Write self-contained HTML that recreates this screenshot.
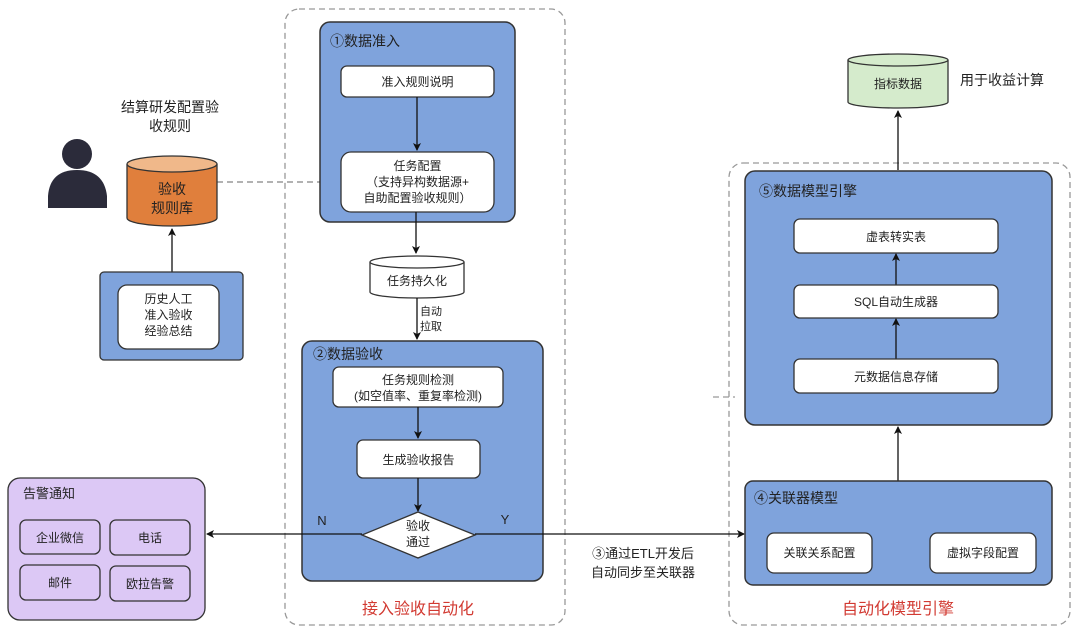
<!DOCTYPE html>
<html><head><meta charset="utf-8"><style>
html,body{margin:0;padding:0;background:#fff;}
svg{display:block;font-family:"Liberation Sans","Noto Sans CJK SC",sans-serif;}
</style></head><body>
<svg width="1080" height="633" viewBox="0 0 1080 633" xmlns="http://www.w3.org/2000/svg">
<defs>
<marker id="a" markerWidth="8" markerHeight="8" refX="7" refY="4" orient="auto" markerUnits="userSpaceOnUse">
<path d="M0,0 L8,4 L0,8 L2,4 z" fill="#111"/></marker>
</defs>
<rect x="285" y="9" width="280" height="616" rx="14" fill="none" stroke="#999" stroke-width="1.3" stroke-dasharray="6,4"/>
<rect x="729" y="163" width="341" height="462" rx="14" fill="none" stroke="#999" stroke-width="1.3" stroke-dasharray="6,4"/>
<line x1="713" y1="397" x2="735" y2="397" stroke="#999" stroke-width="1.3" stroke-dasharray="6,4"/>
<line x1="217" y1="182" x2="340" y2="182" stroke="#999" stroke-width="1.5" stroke-dasharray="6,4"/>

<rect x="320" y="22" width="195" height="200" rx="10" fill="#7fa3dc" stroke="#333" stroke-width="1.5"/>
<text x="330" y="46" font-size="14" fill="#222">①数据准入</text>
<rect x="341" y="66" width="153" height="31" rx="6" fill="#fff" stroke="#333" stroke-width="1.3"/>
<text x="417.5" y="86" font-size="12" text-anchor="middle" fill="#222">准入规则说明</text>
<line x1="417" y1="97" x2="417" y2="150" stroke="#111" stroke-width="1.3" marker-end="url(#a)"/>
<rect x="341" y="152" width="153" height="60" rx="10" fill="#fff" stroke="#333" stroke-width="1.3"/>
<text x="417.5" y="170" font-size="12" text-anchor="middle" fill="#222">任务配置</text>
<text x="417.5" y="186" font-size="12" text-anchor="middle" fill="#222">（支持异构数据源+</text>
<text x="417.5" y="202" font-size="12" text-anchor="middle" fill="#222">自助配置验收规则）</text>
<line x1="416" y1="212" x2="416" y2="253" stroke="#111" stroke-width="1.3" marker-end="url(#a)"/>

<path d="M370,262 L370,292 A47,6 0 0 0 464,292 L464,262" fill="#fff" stroke="#333" stroke-width="1.3"/>
<ellipse cx="417" cy="262" rx="47" ry="6" fill="#fff" stroke="#333" stroke-width="1.3"/>
<text x="417" y="285" font-size="12" text-anchor="middle" fill="#222">任务持久化</text>
<line x1="417" y1="298" x2="417" y2="339" stroke="#111" stroke-width="1.3" marker-end="url(#a)"/>
<text x="420" y="315" font-size="11" fill="#222">自动</text>
<text x="420" y="330" font-size="11" fill="#222">拉取</text>

<rect x="302" y="341" width="241" height="240" rx="10" fill="#7fa3dc" stroke="#333" stroke-width="1.5"/>
<text x="313" y="359" font-size="14" fill="#222">②数据验收</text>
<rect x="333" y="367" width="170" height="40" rx="6" fill="#fff" stroke="#333" stroke-width="1.3"/>
<text x="418" y="384" font-size="12" text-anchor="middle" fill="#222">任务规则检测</text>
<text x="418" y="400" font-size="12" text-anchor="middle" fill="#222">(如空值率、重复率检测)</text>
<line x1="418" y1="407" x2="418" y2="438" stroke="#111" stroke-width="1.3" marker-end="url(#a)"/>
<rect x="357" y="440" width="123" height="38" rx="6" fill="#fff" stroke="#333" stroke-width="1.3"/>
<text x="418.5" y="464" font-size="12" text-anchor="middle" fill="#222">生成验收报告</text>
<line x1="418" y1="478" x2="418" y2="511" stroke="#111" stroke-width="1.3" marker-end="url(#a)"/>
<line x1="362" y1="534" x2="207" y2="534" stroke="#111" stroke-width="1.3" marker-end="url(#a)"/>
<line x1="475" y1="534" x2="744" y2="534" stroke="#111" stroke-width="1.3" marker-end="url(#a)"/>
<path d="M418,512 L475,535 L418,558 L362,535 z" fill="#fff" stroke="#333" stroke-width="1.3"/>
<text x="418" y="530" font-size="12" text-anchor="middle" fill="#222">验收</text>
<text x="418" y="546" font-size="12" text-anchor="middle" fill="#222">通过</text>
<text x="322" y="525" font-size="13" text-anchor="middle" fill="#222">N</text>
<text x="505" y="524" font-size="13" text-anchor="middle" fill="#222">Y</text>
<text x="418" y="614" font-size="16" text-anchor="middle" fill="#d23a32">接入验收自动化</text>

<rect x="8" y="478" width="197" height="142" rx="12" fill="#dcc8f5" stroke="#333" stroke-width="1.3"/>
<text x="23" y="498" font-size="13" fill="#222">告警通知</text>
<rect x="20" y="520" width="80" height="34" rx="6" fill="#dcc8f5" stroke="#333" stroke-width="1.3"/>
<text x="60" y="542" font-size="12" text-anchor="middle" fill="#222">企业微信</text>
<rect x="110" y="520" width="80" height="35" rx="6" fill="#dcc8f5" stroke="#333" stroke-width="1.3"/>
<text x="150" y="542" font-size="12" text-anchor="middle" fill="#222">电话</text>
<rect x="20" y="565" width="80" height="35" rx="6" fill="#dcc8f5" stroke="#333" stroke-width="1.3"/>
<text x="60" y="587" font-size="12" text-anchor="middle" fill="#222">邮件</text>
<rect x="110" y="566" width="80" height="35" rx="6" fill="#dcc8f5" stroke="#333" stroke-width="1.3"/>
<text x="150" y="588" font-size="12" text-anchor="middle" fill="#222">欧拉告警</text>

<circle cx="77" cy="154" r="15" fill="#2b2b3a"/>
<path d="M48,208 L48,196 Q50,170 77,170 Q104,170 107,196 L107,208 z" fill="#2b2b3a"/>
<text x="170" y="112" font-size="14" text-anchor="middle" fill="#222">结算研发配置验</text>
<text x="170" y="131" font-size="14" text-anchor="middle" fill="#222">收规则</text>
<path d="M127,164 L127,218 A45,8 0 0 0 217,218 L217,164" fill="#e07f3c" stroke="#333" stroke-width="1.3"/>
<ellipse cx="172" cy="164" rx="45" ry="8" fill="#f0b88a" stroke="#333" stroke-width="1.3"/>
<text x="172" y="194" font-size="14" text-anchor="middle" fill="#222">验收</text>
<text x="172" y="213" font-size="14" text-anchor="middle" fill="#222">规则库</text>
<line x1="172" y1="272" x2="172" y2="229" stroke="#111" stroke-width="1.3" marker-end="url(#a)"/>
<rect x="100" y="272" width="143" height="88" rx="4" fill="#7fa3dc" stroke="#333" stroke-width="1.3"/>
<rect x="118" y="285" width="101" height="64" rx="9" fill="#fff" stroke="#333" stroke-width="1.3"/>
<text x="168.5" y="303" font-size="12" text-anchor="middle" fill="#222">历史人工</text>
<text x="168.5" y="319" font-size="12" text-anchor="middle" fill="#222">准入验收</text>
<text x="168.5" y="335" font-size="12" text-anchor="middle" fill="#222">经验总结</text>

<path d="M848,60 L848,102 A50,6 0 0 0 948,102 L948,60" fill="#d5ebcc" stroke="#333" stroke-width="1.3"/>
<ellipse cx="898" cy="60" rx="50" ry="6" fill="#d5ebcc" stroke="#333" stroke-width="1.3"/>
<text x="898" y="88" font-size="12" text-anchor="middle" fill="#222">指标数据</text>
<text x="960" y="85" font-size="14" fill="#222">用于收益计算</text>
<line x1="898" y1="170" x2="898" y2="111" stroke="#111" stroke-width="1.3" marker-end="url(#a)"/>

<rect x="745" y="171" width="307" height="254" rx="10" fill="#7fa3dc" stroke="#333" stroke-width="1.5"/>
<text x="759" y="196" font-size="14" fill="#222">⑤数据模型引擎</text>
<rect x="794" y="219" width="204" height="34" rx="6" fill="#fff" stroke="#333" stroke-width="1.3"/>
<text x="896" y="241" font-size="12" text-anchor="middle" fill="#222">虚表转实表</text>
<line x1="896" y1="285" x2="896" y2="254" stroke="#111" stroke-width="1.3" marker-end="url(#a)"/>
<rect x="794" y="285" width="204" height="33" rx="6" fill="#fff" stroke="#333" stroke-width="1.3"/>
<text x="896" y="306" font-size="12" text-anchor="middle" fill="#222">SQL自动生成器</text>
<line x1="896" y1="359" x2="896" y2="319" stroke="#111" stroke-width="1.3" marker-end="url(#a)"/>
<rect x="794" y="359" width="204" height="34" rx="6" fill="#fff" stroke="#333" stroke-width="1.3"/>
<text x="896" y="381" font-size="12" text-anchor="middle" fill="#222">元数据信息存储</text>
<line x1="898" y1="481" x2="898" y2="427" stroke="#111" stroke-width="1.3" marker-end="url(#a)"/>

<rect x="745" y="481" width="307" height="104" rx="8" fill="#7fa3dc" stroke="#333" stroke-width="1.5"/>
<text x="754" y="503" font-size="14" fill="#222">④关联器模型</text>
<rect x="767" y="533" width="105" height="40" rx="7" fill="#fff" stroke="#333" stroke-width="1.3"/>
<text x="819.5" y="557" font-size="12" text-anchor="middle" fill="#222">关联关系配置</text>
<rect x="930" y="533" width="106" height="40" rx="7" fill="#fff" stroke="#333" stroke-width="1.3"/>
<text x="983" y="557" font-size="12" text-anchor="middle" fill="#222">虚拟字段配置</text>
<text x="643" y="558" font-size="13" text-anchor="middle" fill="#222">③通过ETL开发后</text>
<text x="643" y="577" font-size="13" text-anchor="middle" fill="#222">自动同步至关联器</text>
<text x="898" y="614" font-size="16" text-anchor="middle" fill="#d23a32">自动化模型引擎</text>
</svg>
</body></html>
